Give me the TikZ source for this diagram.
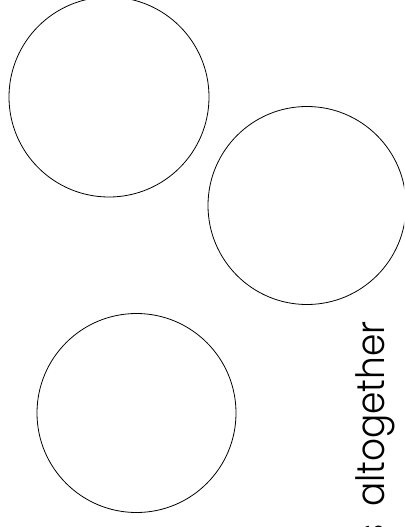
\documentclass[tikz,border=0pt]{standalone}
\usepackage{fontspec}
\setmainfont{Poppins}[UprightFont={* Light}]
\begin{document}
\begin{tikzpicture}[x=1pt,y=-1pt,
  ring/.style={draw=black, line width=0.8pt, circle, minimum size=200pt, inner sep=0pt}]
\useasboundingbox (0,0) rectangle (404,527);
\clip (0,0) rectangle (404,527);
\node[ring] (c1) at (109,97) {};
\node[ring, minimum size=198pt] (c2) at (307,205.5) {};
\node[ring, minimum size=199pt] (c3) at (136.5,413) {};
\node[rotate=90, anchor=base east, inner sep=0pt, font=\fontsize{39}{47}\selectfont] (t) at (384,321) {\scalebox{0.92}[1]{s\hspace{8pt} altogether}};
\end{tikzpicture}
\end{document}
